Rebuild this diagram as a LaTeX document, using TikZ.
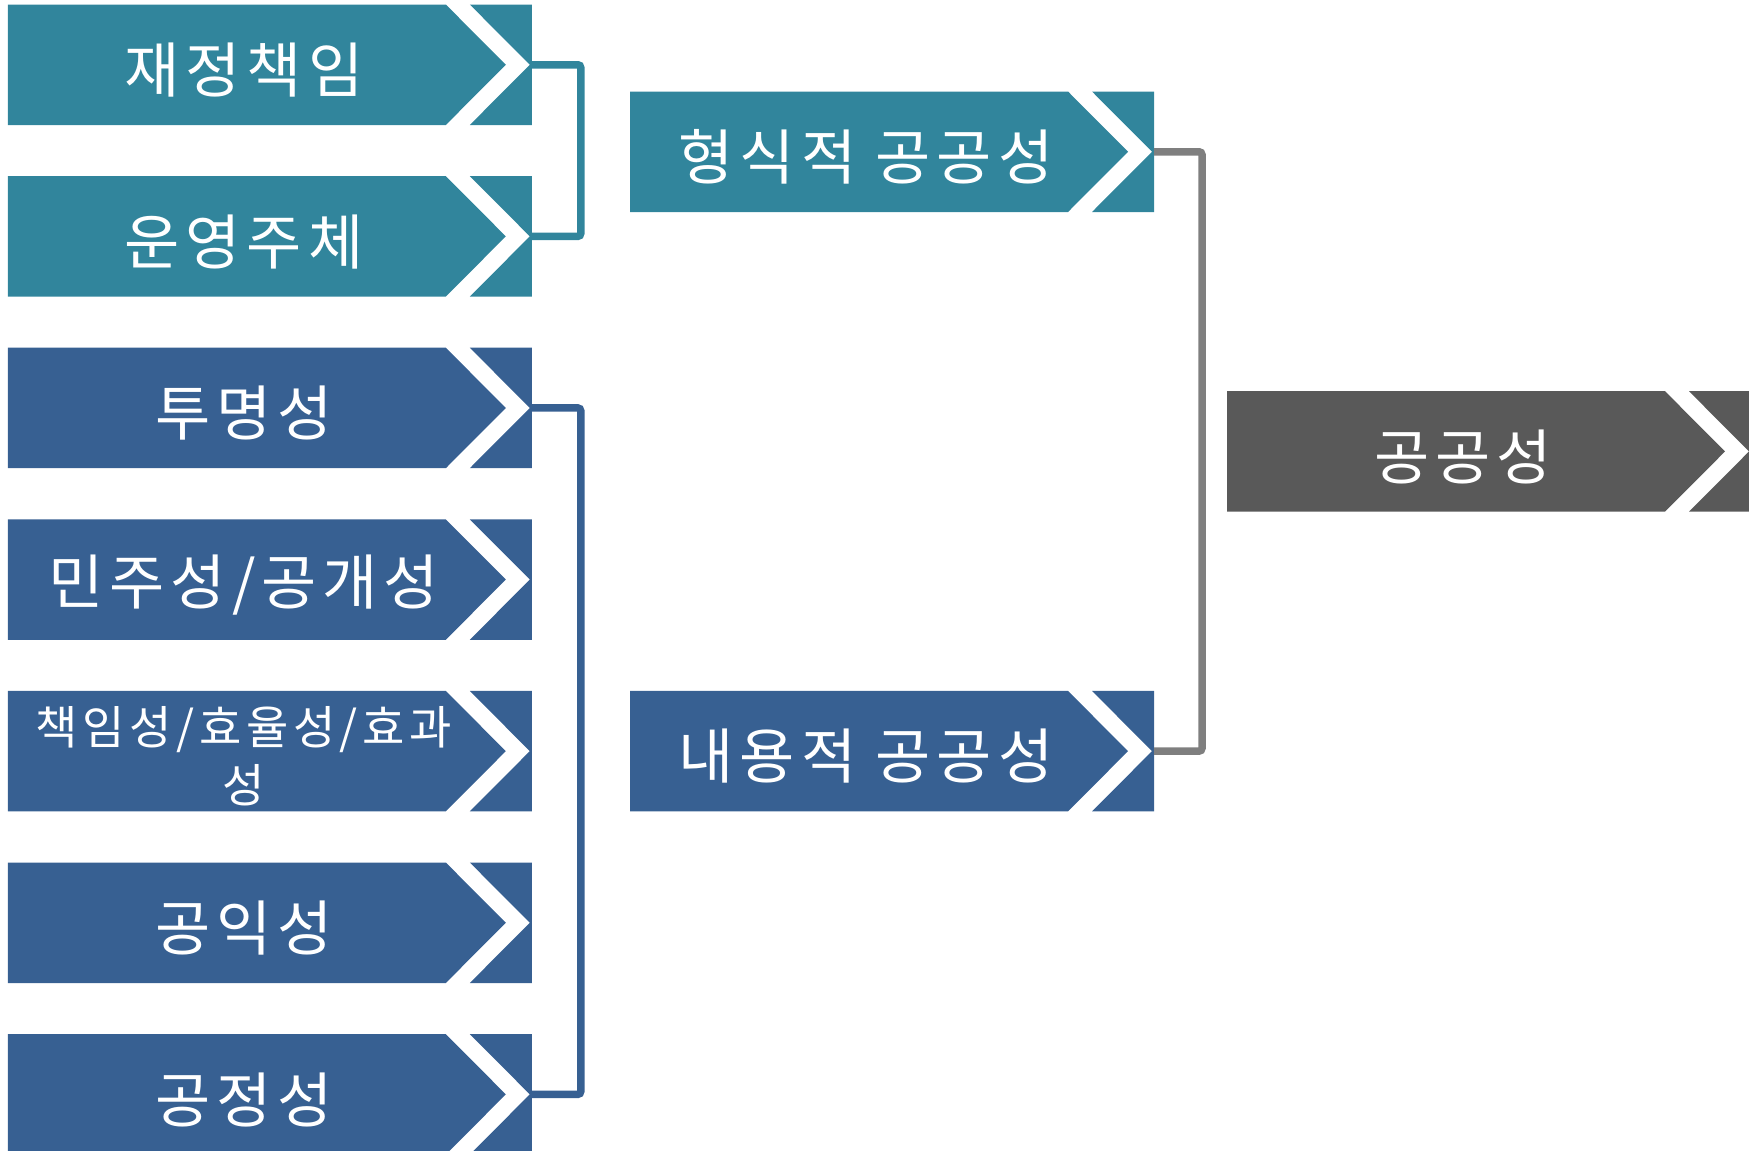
\documentclass[tikz,border=0pt]{standalone}
\usepackage{fontspec}
\setmainfont{Noto Sans CJK KR}[LetterSpace=10]
\definecolor{cteal}{HTML}{31859C}
\definecolor{cblue}{HTML}{376092}
\definecolor{cdark}{HTML}{595959}
\definecolor{cline}{HTML}{7F7F7F}
\tikzset{
  lbl/.style={text=white, inner sep=0pt, align=center},
  conn/.style={line width=7.5pt, rounded corners=3pt},
}
% #1 name, #2 x0, #3 top, #4 colour, #5 font size, #6 line skip, #7 text
\newcommand{\chevbox}[7]{%
  \fill[#4] (#2,#3) -- ++(438,0) -- ++(60,60.25) -- ++(-60,60.25) -- ++(-438,0) -- cycle;
  \fill[#4] (#2+462,#3) -- (#2+524,#3) -- (#2+524,#3+120.5) -- (#2+462,#3+120.5) -- (#2+522,#3+60.25) -- cycle;
  \node[lbl,font=\fontsize{#5}{#6}\selectfont] (#1) at (#2+236,#3+65.5) {#7};
  \coordinate (#1-e) at (#2+524,#3+60.25);
}
\begin{document}
\begin{tikzpicture}[x=1pt,y=-1pt]
\useasboundingbox (0,0) rectangle (1749,1151);
\clip (0,0) rectangle (1749,1151);
\chevbox{b1}{7.8}{4.5}{cteal}{60}{66}{재정책임}
\chevbox{b2}{7.8}{176.1}{cteal}{60}{66}{운영주체}
\chevbox{b3}{7.8}{347.7}{cblue}{60}{66}{투명성}
\chevbox{b4}{7.8}{519.3}{cblue}{60}{66}{민주성/공개성}
\chevbox{b5}{7.8}{690.9}{cblue}{46}{58}{책임성/효율성/효과\\성}
\chevbox{b6}{7.8}{862.5}{cblue}{60}{66}{공익성}
\chevbox{b7}{7.8}{1034.1}{cblue}{60}{66}{공정성}
\chevbox{m1}{630}{91.5}{cteal}{60}{66}{형식적 공공성}
\chevbox{m2}{630}{690.9}{cblue}{60}{66}{내용적 공공성}
\chevbox{r1}{1227}{391.2}{cdark}{60}{66}{공공성}
\draw[conn, cteal] (b1-e) -- ++(49,0) |- (b2-e);
\draw[conn, cblue] (b3-e) -- ++(49,0) |- (b7-e);
\draw[conn, cline] (m1-e) -- ++(48,0) |- (m2-e);
\end{tikzpicture}
\end{document}
